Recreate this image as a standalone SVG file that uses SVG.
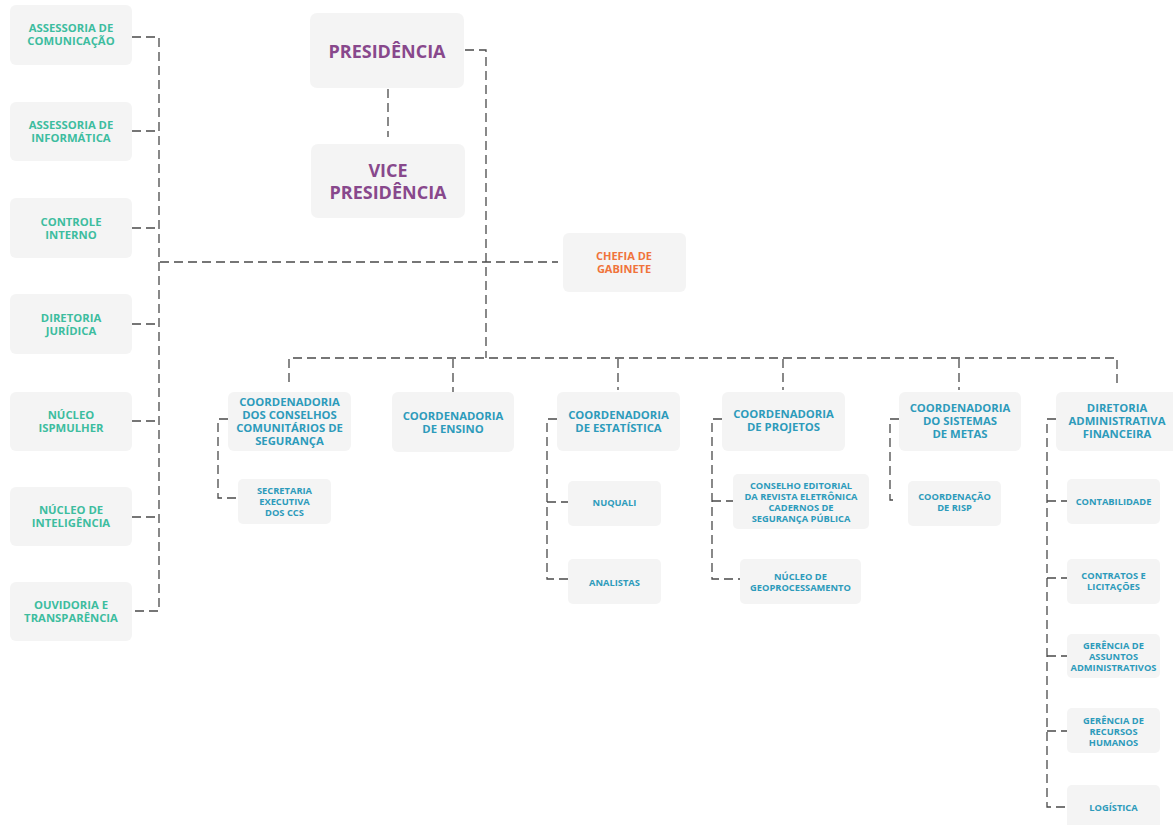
<svg xmlns="http://www.w3.org/2000/svg" width="1173" height="825" viewBox="0 0 1173 825">
<style>
.box{fill:#f4f4f4}
.t{font-family:"Open Sans","Liberation Sans",sans-serif;font-weight:700;text-anchor:middle}
.g{fill:#3dbd9f;font-size:11.3px}
.p{fill:#88488c;font-size:18px}
.o{fill:#f0733a;font-size:11px}
.b{fill:#2d9bbb;font-size:11.3px}
.s{fill:#2d9bbb;font-size:9.3px}
.c{fill:none;stroke:#4a4a4a;stroke-width:1.3;stroke-dasharray:9 5}
</style>
<rect width="1173" height="825" fill="#ffffff"/>
<g id="connectors">
<path class="c" d="M132 37H159V611H132"/>
<path class="c" d="M132 131H159M132 228H159M132 324H159M132 421H159M132 517H159"/>
<path class="c" d="M160 262H558"/>
<path class="c" d="M465 50H486V358"/>
<path class="c" d="M388 89V137"/>
<path class="c" d="M289 382V358H1117V387"/>
<path class="c" d="M453 359V392M618 359V390M783 359V390M959 359V390"/>
<path class="c" d="M228 419H218V498H238"/>
<path class="c" d="M557 419H547V579H568M547 502H568"/>
<path class="c" d="M722 419H712V579H740M712 501H733"/>
<path class="c" d="M899 419H890V500H898"/>
<path class="c" d="M1056 419H1047V807H1067M1047 501H1067M1047 578H1067M1047 656H1067M1047 731H1067"/>
</g>
<g id="n-comunicacao"><rect class="box" x="10" y="5" width="122" height="60" rx="6"/><text class="t g" x="71" y="32">ASSESSORIA DE</text><text class="t g" x="71" y="45">COMUNICAÇÃO</text></g>
<g id="n-informatica"><rect class="box" x="10" y="102" width="122" height="59" rx="6"/><text class="t g" x="71" y="129">ASSESSORIA DE</text><text class="t g" x="71" y="142">INFORMÁTICA</text></g>
<g id="n-controle"><rect class="box" x="10" y="198" width="122" height="60" rx="6"/><text class="t g" x="71" y="225.5">CONTROLE</text><text class="t g" x="71" y="238.5">INTERNO</text></g>
<g id="n-juridica"><rect class="box" x="10" y="294" width="122" height="60" rx="6"/><text class="t g" x="71" y="321.5">DIRETORIA</text><text class="t g" x="71" y="334.5">JURÍDICA</text></g>
<g id="n-ispmulher"><rect class="box" x="10" y="392" width="122" height="59" rx="6"/><text class="t g" x="71" y="419">NÚCLEO</text><text class="t g" x="71" y="432">ISPMULHER</text></g>
<g id="n-inteligencia"><rect class="box" x="10" y="487" width="122" height="59" rx="6"/><text class="t g" x="71" y="514">NÚCLEO DE</text><text class="t g" x="71" y="527">INTELIGÊNCIA</text></g>
<g id="n-ouvidoria"><rect class="box" x="10" y="582" width="122" height="59" rx="6"/><text class="t g" x="71" y="609">OUVIDORIA E</text><text class="t g" x="71" y="622">TRANSPARÊNCIA</text></g>
<g id="n-presidencia"><rect class="box" x="310" y="13" width="154" height="75" rx="7"/><text class="t p" x="387" y="57.5">PRESIDÊNCIA</text></g>
<g id="n-vice"><rect class="box" x="311" y="144" width="154" height="74" rx="7"/><text class="t p" x="388" y="177">VICE</text><text class="t p" x="388" y="199">PRESIDÊNCIA</text></g>
<g id="n-chefia"><rect class="box" x="563" y="233" width="123" height="59" rx="6"/><text class="t o" x="624" y="259.5">CHEFIA DE</text><text class="t o" x="624" y="272.5">GABINETE</text></g>
<g id="n-conselhos"><rect class="box" x="228" y="392" width="123" height="59" rx="6"/><text class="t b" x="289.5" y="406">COORDENADORIA</text><text class="t b" x="289.5" y="419">DOS CONSELHOS</text><text class="t b" x="289.5" y="432">COMUNITÁRIOS DE</text><text class="t b" x="289.5" y="445">SEGURANÇA</text></g>
<g id="n-ensino"><rect class="box" x="392" y="392" width="122" height="60" rx="6"/><text class="t b" x="453" y="419.5">COORDENADORIA</text><text class="t b" x="453" y="432.5">DE ENSINO</text></g>
<g id="n-estatistica"><rect class="box" x="557" y="392" width="123" height="59" rx="6"/><text class="t b" x="618.5" y="419">COORDENADORIA</text><text class="t b" x="618.5" y="432">DE ESTATÍSTICA</text></g>
<g id="n-projetos"><rect class="box" x="722" y="392" width="123" height="59" rx="6"/><text class="t b" x="783.5" y="417.5">COORDENADORIA</text><text class="t b" x="783.5" y="430.5">DE PROJETOS</text></g>
<g id="n-metas"><rect class="box" x="899" y="392" width="122" height="59" rx="6"/><text class="t b" x="960" y="412">COORDENADORIA</text><text class="t b" x="960" y="425">DO SISTEMAS</text><text class="t b" x="960" y="438">DE METAS</text></g>
<g id="n-diretoria-adm"><rect class="box" x="1056" y="392" width="124" height="59" rx="6"/><text class="t b" x="1117" y="412">DIRETORIA</text><text class="t b" x="1117" y="425">ADMINISTRATIVA</text><text class="t b" x="1117" y="438">FINANCEIRA</text></g>
<g id="n-secretaria"><rect class="box" x="238" y="479" width="93" height="45" rx="5"/><text class="t s" x="284.5" y="494">SECRETARIA</text><text class="t s" x="284.5" y="505">EXECUTIVA</text><text class="t s" x="284.5" y="516">DOS CCS</text></g>
<g id="n-nuquali"><rect class="box" x="568" y="481" width="93" height="45" rx="5"/><text class="t s" x="614.5" y="505.5">NUQUALI</text></g>
<g id="n-analistas"><rect class="box" x="568" y="559" width="93" height="45" rx="5"/><text class="t s" x="614.5" y="585.5">ANALISTAS</text></g>
<g id="n-conselho-editorial"><rect class="box" x="733" y="474" width="136" height="55" rx="5"/><text class="t s" x="801" y="488.5">CONSELHO EDITORIAL</text><text class="t s" x="801" y="499.5">DA REVISTA ELETRÔNICA</text><text class="t s" x="801" y="510.5">CADERNOS DE</text><text class="t s" x="801" y="521.5">SEGURANÇA PÚBLICA</text></g>
<g id="n-geoprocessamento"><rect class="box" x="740" y="559" width="121" height="45" rx="5"/><text class="t s" x="800.5" y="580">NÚCLEO DE</text><text class="t s" x="800.5" y="591">GEOPROCESSAMENTO</text></g>
<g id="n-risp"><rect class="box" x="908" y="481" width="93" height="45" rx="5"/><text class="t s" x="954.5" y="500">COORDENAÇÃO</text><text class="t s" x="954.5" y="511">DE RISP</text></g>
<g id="n-contabilidade"><rect class="box" x="1067" y="479" width="93" height="45" rx="5"/><text class="t s" x="1113.5" y="504.5">CONTABILIDADE</text></g>
<g id="n-contratos"><rect class="box" x="1067" y="559" width="93" height="45" rx="5"/><text class="t s" x="1113.5" y="579">CONTRATOS E</text><text class="t s" x="1113.5" y="590">LICITAÇÕES</text></g>
<g id="n-assuntos"><rect class="box" x="1067" y="634" width="93" height="44" rx="5"/><text class="t s" x="1113.5" y="648.5">GERÊNCIA DE</text><text class="t s" x="1113.5" y="659.5">ASSUNTOS</text><text class="t s" x="1113.5" y="670.5">ADMINISTRATIVOS</text></g>
<g id="n-rh"><rect class="box" x="1067" y="708" width="93" height="45" rx="5"/><text class="t s" x="1113.5" y="723.5">GERÊNCIA DE</text><text class="t s" x="1113.5" y="734.5">RECURSOS</text><text class="t s" x="1113.5" y="745.5">HUMANOS</text></g>
<g id="n-logistica"><rect class="box" x="1067" y="785" width="93" height="50" rx="5"/><text class="t s" x="1113.5" y="810.5">LOGÍSTICA</text></g>
</svg>
